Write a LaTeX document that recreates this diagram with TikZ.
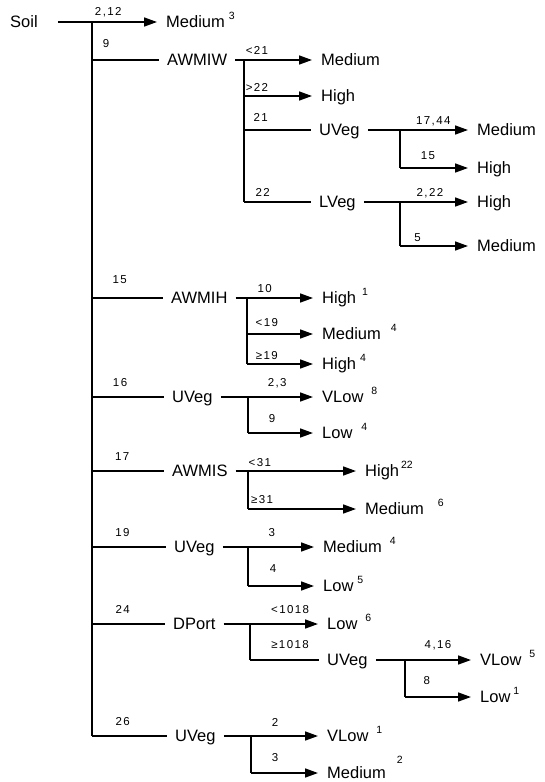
\documentclass[tikz,border=0pt]{standalone}
\usepackage{fontspec}
\setmainfont{Liberation Sans}
\newfontfamily\lblfamily[LetterSpace=12]{Liberation Sans}
\usetikzlibrary{arrows.meta}
\newcommand{\cnt}[3][8pt]{\hspace{#2}\raisebox{#1}{\fontsize{10.5}{10.5}\selectfont #3}}
\tikzset{
  link/.style={line width=1.6pt},
  arr/.style={line width=1.6pt, -{Triangle[length=13pt,width=9pt]}},
  var/.style={anchor=west, inner xsep=8pt, inner ysep=0pt, text height=11.8pt, text depth=0pt, font=\fontsize{16.5}{16.5}\selectfont},
  leaf/.style={var, inner xsep=9pt},
  lbl/.style={inner sep=0pt, text height=8pt, text depth=0pt, font=\lblfamily\fontsize{11.5}{11.5}\selectfont},
}

\begin{document}
\begin{tikzpicture}[x=1pt,y=-1pt]
\useasboundingbox (0,0) rectangle (545,782);
\node[var] (soil) at (2,22) {Soil};
\coordinate (t0) at (92,22);
\coordinate (t9) at (92,60);
\coordinate (t15) at (92,298);
\coordinate (t16) at (92,397);
\coordinate (t17) at (92,471);
\coordinate (t19) at (92,547);
\coordinate (t24) at (92,624);
\coordinate (t26) at (92,736);
\coordinate (a1) at (244,60);
\coordinate (a2) at (244,96);
\coordinate (a3) at (244,130);
\coordinate (a4) at (244,202);
\coordinate (b1) at (400,130);
\coordinate (b2) at (400,168);
\coordinate (c1) at (400,202);
\coordinate (c2) at (400,246);
\coordinate (h1) at (247,298);
\coordinate (h2) at (247,334);
\coordinate (h3) at (247,364);
\coordinate (v1) at (248,397);
\coordinate (v2) at (248,433);
\coordinate (s1) at (248,471);
\coordinate (s2) at (248,509);
\coordinate (w1) at (248,547);
\coordinate (w2) at (248,586);
\coordinate (d1) at (250,624);
\coordinate (d2) at (250,660);
\coordinate (e1) at (405,660);
\coordinate (e2) at (405,697);
\coordinate (f1) at (251,736);
\coordinate (f2) at (251,773);
\node[leaf] (med3) at (157,22) {Medium\cnt{4pt}{3}};
\node[var] (awmiw) at (159,60) {AWMIW};
\node[leaf] (medA) at (312,60) {Medium};
\node[leaf] (highA) at (312,96) {High};
\node[var] (uvegA) at (311,130) {UVeg};
\node[var] (lveg) at (311,202) {LVeg};
\node[leaf] (medB) at (468,130) {Medium};
\node[leaf] (highB) at (468,168) {High};
\node[leaf] (highC) at (468,202) {High};
\node[leaf] (medC) at (468,246) {Medium};
\node[var] (awmih) at (163,298) {AWMIH};
\node[leaf] (high1) at (313,298) {High\cnt{6pt}{1}};
\node[leaf] (med4) at (313,334) {Medium\cnt{10pt}{4}};
\node[leaf] (high4) at (313,364) {High\cnt{4pt}{4}};
\node[var] (uvegB) at (164,397) {UVeg};
\node[leaf] (vlow8) at (313,397) {VLow\cnt{8pt}{8}};
\node[leaf] (low4) at (313,433) {Low\cnt{9pt}{4}};
\node[var] (awmis) at (164,471) {AWMIS};
\node[leaf] (high22) at (356,471) {High\cnt{2pt}{22}};
\node[leaf] (med6) at (356,509) {Medium\cnt{14pt}{6}};
\node[var] (uvegC) at (166,547) {UVeg};
\node[leaf] (med4b) at (314,547) {Medium\cnt{8pt}{4}};
\node[leaf] (low5) at (314,586) {Low\cnt{4pt}{5}};
\node[var] (dport) at (165,624) {DPort};
\node[leaf] (low6) at (318,624) {Low\cnt{8pt}{6}};
\node[var] (uvegD) at (319,660) {UVeg};
\node[leaf] (vlow5) at (471,660) {VLow\cnt{8pt}{5}};
\node[leaf] (low1) at (471,697) {Low\cnt{3pt}{1}};
\node[var] (uvegE) at (167,736) {UVeg};
\node[leaf] (vlow1) at (318,736) {VLow\cnt{8pt}{1}};
\node[leaf] (med2) at (318,773) {Medium\cnt[15pt]{11pt}{2}};
\draw[link, shorten <=12pt] (soil.east) -- (t0);
\draw[link] (t0) -- (t26);
\draw[arr] (t0) -- node[lbl, pos=.25, yshift=11pt] (n212) {2,12} (med3.west);
\draw[link] (t9) -- node[lbl, pos=.21, yshift=17pt] (n9) {9} (awmiw.west);
\draw[link] (t15) -- node[lbl, pos=.39, yshift=19pt] (n15) {15} (awmih.west);
\draw[link] (t16) -- node[lbl, pos=.39, yshift=15pt] (n16) {16} (uvegB.west);
\draw[link] (t17) -- node[lbl, pos=.42, yshift=15pt] (n17) {17} (awmis.west);
\draw[link] (t19) -- node[lbl, pos=.41, yshift=15pt] (n19) {19} (uvegC.west);
\draw[link] (t24) -- node[lbl, pos=.42, yshift=15pt] (n24) {24} (dport.west);
\draw[link] (t26) -- node[lbl, pos=.41, yshift=15pt] (n26) {26} (uvegE.west);
\draw[link] (awmiw.east) -- (a1) -- (a4);
\draw[arr] (a1) -- node[lbl, pos=.19, yshift=10pt] (nlt21) {<21} (medA.west);
\draw[arr] (a2) -- node[lbl, pos=.19, yshift=9pt] (ngt22) {>22} (highA.west);
\draw[link] (a3) -- node[lbl, pos=.25, yshift=13pt] (n21) {21} (uvegA.west);
\draw[link] (a4) -- node[lbl, pos=.28, yshift=10pt] (n22) {22} (lveg.west);
\draw[link] (uvegA.east) -- (b1) -- (b2);
\draw[arr] (b1) -- node[lbl, pos=.49, yshift=10pt] (n1744) {17,44} (medB.west);
\draw[arr] (b2) -- node[lbl, pos=.41, yshift=13pt] (n15b) {15} (highB.west);
\draw[link] (lveg.east) -- (c1) -- (c2);
\draw[arr] (c1) -- node[lbl, pos=.44, yshift=10pt] (n222) {2,22} (highC.west);
\draw[arr] (c2) -- node[lbl, pos=.26, yshift=9pt] (n5) {5} (medC.west);
\draw[link] (awmih.east) -- (h1) -- (h3);
\draw[arr] (h1) -- node[lbl, pos=.27, yshift=10pt] (n10) {10} (high1.west);
\draw[arr] (h2) -- node[lbl, pos=.3, yshift=12pt] (nlt19) {<19} (med4.west);
\draw[arr] (h3) -- node[lbl, pos=.3, yshift=9pt] (nge19) {≥19} (high4.west);
\draw[link] (uvegB.east) -- (v1) -- (v2);
\draw[arr] (v1) -- node[lbl, pos=.45, yshift=15pt] (n23) {2,3} (vlow8.west);
\draw[arr] (v2) -- node[lbl, pos=.37, yshift=15pt] (n9b) {9} (low4.west);
\draw[link] (awmis.east) -- (s1) -- (s2);
\draw[arr] (s1) -- node[lbl, pos=.11, yshift=9pt] (nlt31) {<31} (high22.west);
\draw[arr] (s2) -- node[lbl, pos=.13, yshift=10pt] (nge31) {≥31} (med6.west);
\draw[link] (uvegC.east) -- (w1) -- (w2);
\draw[arr] (w1) -- node[lbl, pos=.36, yshift=15pt] (n3) {3} (med4b.west);
\draw[arr] (w2) -- node[lbl, pos=.38, yshift=18pt] (n4) {4} (low5.west);
\draw[link] (dport.east) -- (d1) -- (d2);
\draw[arr] (d1) -- node[lbl, pos=.59, yshift=15pt] (nlt1018) {<1018} (low6.west);
\draw[link] (d2) -- node[lbl, pos=.58, yshift=16pt] (nge1018) {≥1018} (uvegD.west);
\draw[link] (uvegD.east) -- (e1) -- (e2);
\draw[arr] (e1) -- node[lbl, pos=.5, yshift=16pt] (n416) {4,16} (vlow5.west);
\draw[arr] (e2) -- node[lbl, pos=.33, yshift=17pt] (n8) {8} (low1.west);
\draw[link] (uvegE.east) -- (f1) -- (f2);
\draw[arr] (f1) -- node[lbl, pos=.36, yshift=14pt] (n2) {2} (vlow1.west);
\draw[arr] (f2) -- node[lbl, pos=.36, yshift=16pt] (n3b) {3} (med2.west);
\end{tikzpicture}
\end{document}
